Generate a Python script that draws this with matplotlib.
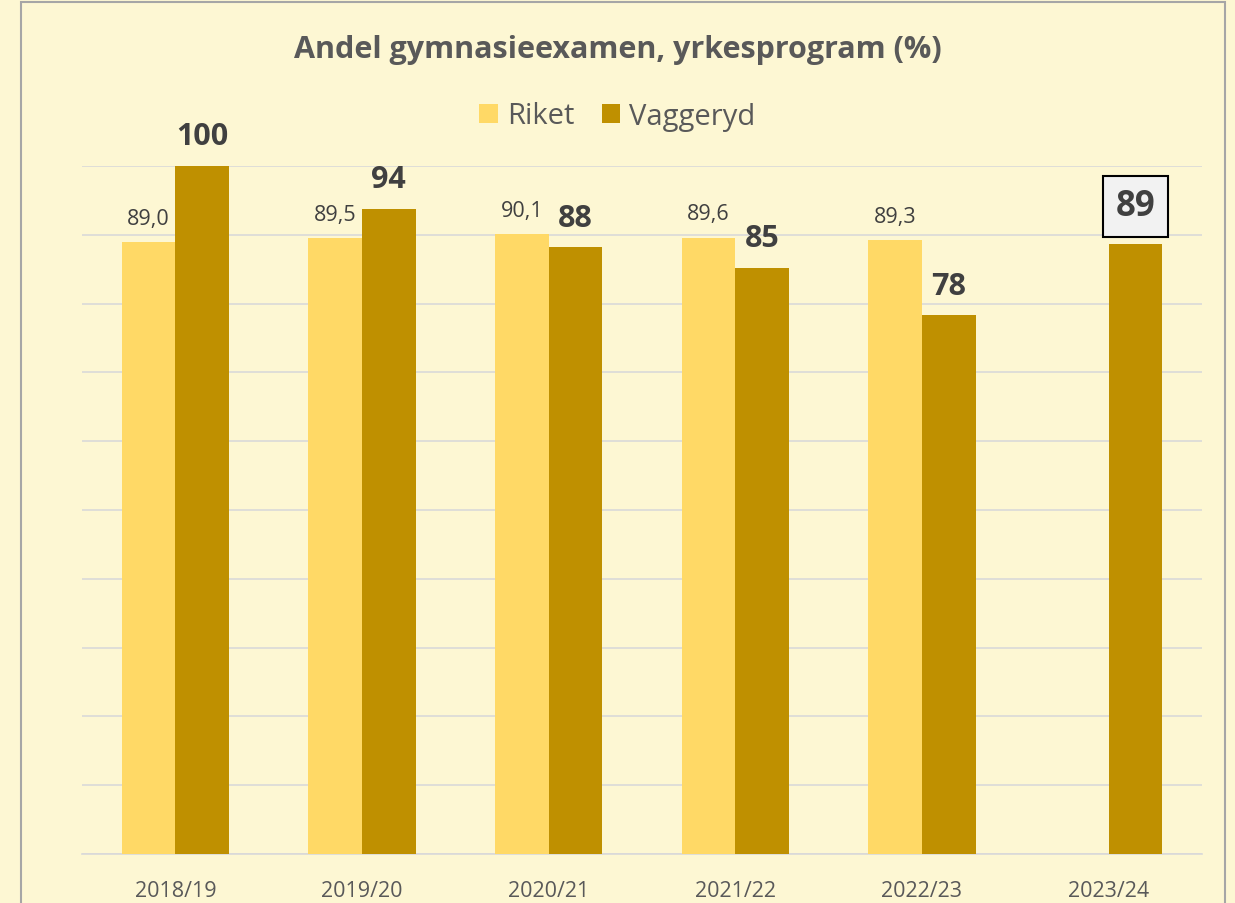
import numpy as np
import matplotlib.pyplot as plt
from matplotlib.patches import Rectangle

# data
years = ['2018/19', '2019/20', '2020/21', '2021/22', '2022/23', '2023/24']
riket = [89.0, 89.5, 90.1, 89.6, 89.3, np.nan]
vaggeryd = [100, 93.8, 88.2, 85.2, 78.3, 88.7]

bg = '#FDF7D3'
c_riket = '#FFD966'
c_vagg = '#BF9000'
txt = '#595959'
dark = '#404040'

plt.rcParams['font.family'] = ['Open Sans', 'DejaVu Sans']

fig = plt.figure(figsize=[12.35, 9.04], dpi=100, facecolor=bg)
# outer chart frame
fig.patches.append(Rectangle((21/1235, -0.01), (1225-21)/1235, 1.0 - 3/904 + 0.01,
                             transform=fig.transFigure, fill=False,
                             edgecolor='#A6A6A6', linewidth=1.5))

ax = fig.add_axes([82/1235, 1 - 855/904, (1202-82)/1235, (855-167)/904])
ax.set_facecolor(bg)

x = np.arange(len(years))
w = 0.287
ax.bar(x - w/2, riket, w, color=c_riket, label='Riket', zorder=3)
ax.bar(x + w/2, vaggeryd, w, color=c_vagg, label='Vaggeryd', zorder=3)

ax.set_xlim(-0.5, len(years) - 0.5)
ax.set_ylim(0, 100)
ax.set_yticks(np.arange(0, 101, 10))
ax.yaxis.grid(True, color='#D9D9D9', linewidth=1.2, zorder=0)
ax.tick_params(axis='y', left=False, labelleft=False)
ax.tick_params(axis='x', bottom=False, labelsize=15.5, labelcolor=txt, pad=15)
ax.set_xticks(x)
ax.set_xticklabels(years)
for s in ['top', 'right', 'left']:
    ax.spines[s].set_visible(False)
ax.spines['bottom'].set_color('#D9D9D9')
ax.spines['bottom'].set_linewidth(1.2)

# data labels
for i, v in enumerate(riket):
    if not np.isnan(v):
        ax.annotate(f'{v:.1f}'.replace('.', ','), (x[i] - w/2, v),
                    xytext=(0, 13), textcoords='offset points',
                    ha='center', va='baseline', fontsize=15.5, color=dark)
for i, v in enumerate(vaggeryd):
    if i == len(vaggeryd) - 1:
        # latest year highlighted in a box
        ax.annotate(f'{v:.0f}', (x[i] + w/2, v), xytext=(0, 14),
                    textcoords='offset points', ha='center', va='bottom',
                    fontsize=25, fontweight='bold', color=dark,
                    bbox=dict(boxstyle='square,pad=0.36', fc='#F2F2F2', ec='black', lw=1.5))
    else:
        ax.annotate(f'{v:.0f}', (x[i] + w/2, v),
                    xytext=(0, 15.5), textcoords='offset points',
                    ha='center', va='baseline', fontsize=22,
                    fontweight='bold', color=dark)

fig.text(0.5, 1 - 58/904, 'Andel gymnasieexamen, yrkesprogram (%)',
         ha='center', va='baseline', fontsize=22, fontweight='bold', color=txt)

leg = fig.legend(loc='center', bbox_to_anchor=(0.5, 1 - 117/904), ncol=2,
                 frameon=False, fontsize=21, handlelength=0.62, handleheight=0.62,
                 handletextpad=0.32, columnspacing=0.95, labelcolor=txt)

fig.savefig('out.png', dpi=100, facecolor=bg)
